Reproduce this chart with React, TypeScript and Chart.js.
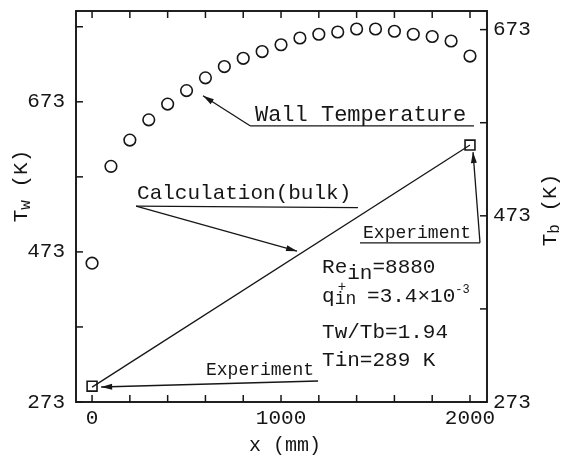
import React, { useEffect, useRef } from 'react';
import { Chart, registerables } from 'chart.js';

Chart.register(...registerables);

// ---------- data ----------
const positionMm = [0, 100, 200, 300, 400, 500, 600, 700, 800, 900, 1000, 1100, 1200, 1300, 1400, 1500, 1600, 1700, 1800, 1900, 2000];
const wallTempK = [458, 587, 622, 649, 670, 688, 705, 720, 731, 740, 749, 758, 763, 766, 770, 770, 767, 763, 760, 754, 734];
const calcMm = [0, 2000];
const calcBulkK = [289, 549];
const expMm = [0, 2000];
const expBulkK = [290, 549];

const xTicks = [0, 200, 400, 600, 800, 1000, 1200, 1400, 1600, 1800, 2000];
const xLabels = [0, 1000, 2000];
const leftTicks = [273, 373, 473, 573, 673, 773];
const leftLabels = [273, 473, 673];
const rightTicks = [273, 373, 473, 573, 673];
const rightLabels = [273, 473, 673];

// annotation anchors in data units (mm, left-axis K)
const wallLabel = { text: 'Wall Temperature', mm: 862, k: 648 };
const wallUnderline = [[836, 641], [2021, 641]];
const wallArrowTip = [587, 681];
const calcLabel = { text: 'Calculation(bulk)', mm: 238, k: 544 };
const calcUnderline = [[233, 534], [1407, 532]];
const calcArrowTip = [1085, 474];
const expTopLabel = { text: 'Experiment', mm: 1434, k: 492 };
const expTopUnderline = [[1418, 485], [2053, 485]];
const expTopArrowTip = [2016, 606];
const expBotLabel = { text: 'Experiment', mm: 603, k: 309 };
const expBotArrow = [[1196, 301], [48, 293]];
const paramMm = 1217;
const paramK = [445, 406, 358, 321];

const INK = '#161616';
const MONO = '"Liberation Mono", "DejaVu Sans Mono", monospace';

function arrow(ctx: CanvasRenderingContext2D, x0: number, y0: number, x1: number, y1: number, head = 11, w = 3) {
  ctx.beginPath();
  ctx.moveTo(x0, y0);
  ctx.lineTo(x1, y1);
  ctx.stroke();
  const a = Math.atan2(y1 - y0, x1 - x0);
  ctx.beginPath();
  ctx.moveTo(x1, y1);
  ctx.lineTo(x1 - head * Math.cos(a) + w * Math.sin(a), y1 - head * Math.sin(a) - w * Math.cos(a));
  ctx.lineTo(x1 - head * Math.cos(a) - w * Math.sin(a), y1 - head * Math.sin(a) + w * Math.cos(a));
  ctx.closePath();
  ctx.fill();
}

function line(ctx: CanvasRenderingContext2D, x0: number, y0: number, x1: number, y1: number) {
  ctx.beginPath();
  ctx.moveTo(x0, y0);
  ctx.lineTo(x1, y1);
  ctx.stroke();
}

const annotate = {
  id: 'annotate',
  afterDraw(chart: any) {
    const { ctx, chartArea: a, scales } = chart;
    const xs = scales.x, yL = scales.yL, yR = scales.yR;
    const P = (mm: number, k: number) => [xs.getPixelForValue(mm), yL.getPixelForValue(k)];
    ctx.save();
    ctx.strokeStyle = INK;
    ctx.fillStyle = INK;

    // frame
    ctx.lineWidth = 1.9;
    ctx.strokeRect(a.left, a.top, a.right - a.left, a.bottom - a.top);

    // inward ticks
    ctx.lineWidth = 1.5;
    const tl = 7;
    xTicks.forEach((v) => {
      const px = xs.getPixelForValue(v);
      line(ctx, px, a.bottom, px, a.bottom - tl);
      line(ctx, px, a.top, px, a.top + tl);
    });
    leftTicks.forEach((v) => {
      const py = yL.getPixelForValue(v);
      line(ctx, a.left, py, a.left + tl, py);
    });
    rightTicks.forEach((v) => {
      const py = yR.getPixelForValue(v);
      line(ctx, a.right, py, a.right - tl, py);
    });

    ctx.lineWidth = 1.3;
    ctx.textBaseline = 'alphabetic';
    ctx.textAlign = 'left';

    // Wall temperature
    ctx.font = `22px ${MONO}`;
    let [tx, ty] = P(wallLabel.mm, wallLabel.k);
    ctx.fillText(wallLabel.text, tx, ty);
    let [u0x, u0y] = P(wallUnderline[0][0], wallUnderline[0][1]);
    let [u1x, u1y] = P(wallUnderline[1][0], wallUnderline[1][1]);
    line(ctx, u0x, u0y, u1x, u1y);
    let [ax, ay] = P(wallArrowTip[0], wallArrowTip[1]);
    arrow(ctx, u0x, u0y, ax, ay);

    // Calculation (bulk)
    ctx.font = `21px ${MONO}`;
    [tx, ty] = P(calcLabel.mm, calcLabel.k);
    ctx.fillText(calcLabel.text, tx, ty);
    [u0x, u0y] = P(calcUnderline[0][0], calcUnderline[0][1]);
    [u1x, u1y] = P(calcUnderline[1][0], calcUnderline[1][1]);
    line(ctx, u0x, u0y, u1x, u1y);
    [ax, ay] = P(calcArrowTip[0], calcArrowTip[1]);
    arrow(ctx, u0x, u0y, ax, ay);

    // Experiment (top right)
    ctx.font = `18px ${MONO}`;
    [tx, ty] = P(expTopLabel.mm, expTopLabel.k);
    ctx.fillText(expTopLabel.text, tx, ty);
    [u0x, u0y] = P(expTopUnderline[0][0], expTopUnderline[0][1]);
    [u1x, u1y] = P(expTopUnderline[1][0], expTopUnderline[1][1]);
    line(ctx, u0x, u0y, u1x, u1y);
    [ax, ay] = P(expTopArrowTip[0], expTopArrowTip[1]);
    arrow(ctx, u1x, u1y, ax, ay);

    // Experiment (bottom)
    [tx, ty] = P(expBotLabel.mm, expBotLabel.k);
    ctx.fillText(expBotLabel.text, tx, ty);
    [u0x, u0y] = P(expBotArrow[0][0], expBotArrow[0][1]);
    [ax, ay] = P(expBotArrow[1][0], expBotArrow[1][1]);
    arrow(ctx, u0x, u0y, ax, ay);

    // parameters
    const big = `21px ${MONO}`;
    const sub = `18px ${MONO}`;
    const px0 = xs.getPixelForValue(paramMm);
    let y = yL.getPixelForValue(paramK[0]);
    let x = px0;
    ctx.font = big;
    ctx.fillText('Re', x, y); x += ctx.measureText('Re').width;
    ctx.fillText('in', x, y + 6); x += ctx.measureText('in').width;
    ctx.fillText('=8880', x, y);

    y = yL.getPixelForValue(paramK[1]);
    x = px0;
    ctx.font = big;
    ctx.fillText('q', x, y); x += ctx.measureText('q').width;
    ctx.font = sub;
    ctx.fillText('in', x, y + 2);
    ctx.font = `14px ${MONO}`;
    ctx.fillText('+', x + 3, y - 11);
    ctx.font = sub;
    x += ctx.measureText('in ').width;
    ctx.font = big;
    ctx.fillText('=3.4\u00d710', x, y); x += ctx.measureText('=3.4\u00d710').width;
    ctx.font = `12px ${MONO}`;
    ctx.fillText('-3', x, y - 9);

    y = yL.getPixelForValue(paramK[2]);
    ctx.font = big;
    ctx.fillText('Tw/Tb=1.94', px0, y);
    y = yL.getPixelForValue(paramK[3]);
    ctx.fillText('Tin=289 K', px0, y);

    // axis titles
    const drawVTitle = (cx: number, cy: number, main: string, s: string) => {
      ctx.save();
      ctx.translate(cx, cy);
      ctx.rotate(-Math.PI / 2);
      ctx.font = big;
      const w1 = ctx.measureText(main).width;
      ctx.font = `16px ${MONO}`;
      const w2 = ctx.measureText(s).width;
      ctx.font = big;
      const w3 = ctx.measureText(' (K)').width;
      const total = w1 + w2 + w3;
      let xx = -total / 2;
      ctx.textBaseline = 'middle';
      ctx.fillText(main, xx, 0); xx += w1;
      ctx.font = `16px ${MONO}`;
      ctx.fillText(s, xx, 5); xx += w2;
      ctx.font = big;
      ctx.fillText(' (K)', xx, 0);
      ctx.restore();
    };
    drawVTitle(21, 186, 'T', 'w');
    drawVTitle(550, 210, 'T', 'b');

    ctx.font = `20px ${MONO}`;
    ctx.textAlign = 'center';
    ctx.textBaseline = 'middle';
    ctx.fillText('x (mm)', (xs.getPixelForValue(0) + xs.getPixelForValue(2000)) / 2 + 4, 446);

    ctx.restore();
  },
};

export default function App() {
  const ref = useRef<HTMLCanvasElement | null>(null);
  useEffect(() => {
    if (!ref.current) return;
    const tickFont = { family: MONO, size: 21 };
    const zeroPadY = (s: any, w: number) => { s.width = w; s.paddingTop = 0; s.paddingBottom = 0; };
    const chart = new Chart(ref.current, {
      type: 'scatter',
      data: {
        datasets: [
          {
            label: 'Wall Temperature',
            data: positionMm.map((m, i) => ({ x: m, y: wallTempK[i] })),
            yAxisID: 'yL',
            pointStyle: 'circle',
            pointRadius: 5.8,
            borderColor: INK,
            backgroundColor: 'rgba(0,0,0,0)',
            borderWidth: 1.6,
            showLine: false,
          },
          {
            label: 'Calculation (bulk)',
            data: calcMm.map((m, i) => ({ x: m, y: calcBulkK[i] })),
            yAxisID: 'yR',
            showLine: true,
            pointRadius: 0,
            borderColor: INK,
            borderWidth: 1.3,
          },
          {
            label: 'Experiment',
            data: expMm.map((m, i) => ({ x: m, y: expBulkK[i] })),
            yAxisID: 'yR',
            pointStyle: 'rect',
            pointRadius: 7,
            borderColor: INK,
            backgroundColor: '#ffffff',
            borderWidth: 1.6,
            showLine: false,
          },
        ],
      },
      options: {
        animation: false,
        responsive: true,
        maintainAspectRatio: false,
        layout: { padding: { top: 11, left: 0, right: 0, bottom: 0 } },
        plugins: { legend: { display: false }, tooltip: { enabled: false } },
        scales: {
          x: {
            type: 'linear',
            min: -85,
            max: 2090,
            afterBuildTicks: (s: any) => { s.ticks = xTicks.map((v) => ({ value: v })); },
            afterFit: (s: any) => { s.height = 56; s.paddingLeft = 0; s.paddingRight = 0; },
            ticks: {
              autoSkip: false,
              maxRotation: 0,
              padding: 4,
              color: INK,
              font: tickFont,
              callback: (v: any) => (xLabels.includes(Number(v)) ? String(v) : ''),
            },
            grid: { display: false, drawTicks: false },
            border: { display: false },
          },
          yL: {
            type: 'linear',
            position: 'left',
            min: 273,
            max: 794,
            afterBuildTicks: (s: any) => { s.ticks = leftTicks.map((v) => ({ value: v })); },
            afterFit: (s: any) => zeroPadY(s, 76),
            ticks: {
              autoSkip: false,
              padding: 11,
              color: INK,
              font: tickFont,
              callback: (v: any) => (leftLabels.includes(Number(v)) ? String(v) : ''),
            },
            grid: { display: false, drawTicks: false },
            border: { display: false },
          },
          yR: {
            type: 'linear',
            position: 'right',
            min: 273,
            max: 693,
            afterBuildTicks: (s: any) => { s.ticks = rightTicks.map((v) => ({ value: v })); },
            afterFit: (s: any) => zeroPadY(s, 76),
            ticks: {
              autoSkip: false,
              padding: 6,
              color: INK,
              font: tickFont,
              callback: (v: any) => (rightLabels.includes(Number(v)) ? String(v) : ''),
            },
            grid: { display: false, drawTicks: false },
            border: { display: false },
          },
        },
      },
      plugins: [annotate],
    } as any);
    return () => chart.destroy();
  }, []);

  return (
    <div style={{ position: 'fixed', left: 0, top: 0, width: 563, height: 458, background: '#fff' }}>
      <canvas ref={ref} />
    </div>
  );
}
